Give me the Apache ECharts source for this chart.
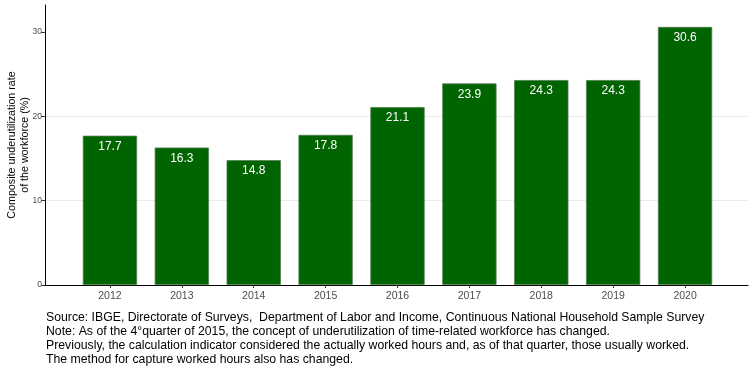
<!DOCTYPE html>
<html>
<head>
<meta charset="UTF-8">
<title>Composite underutilization rate</title>
<script src="https://cdn.jsdelivr.net/npm/echarts@6/dist/echarts.min.js"></script>
<style>
  html, body { margin: 0; padding: 0; background: #fff; }
</style>
</head>
<body>
<div id="main" style="width: 755px;height:378px;"></div>
<script>
  // data
  const years = ['2012', '2013', '2014', '2015', '2016', '2017', '2018', '2019', '2020']
  const rates = [17.7, 16.3, 14.8, 17.8, 21.1, 23.9, 24.3, 24.3, 30.6]
  const yTicks = [0, 10, 20, 30]
  const yTitle = 'Composite underutilization rate\nof the workforce (%)'
  const captionLines = [
    'Source: IBGE, Directorate of Surveys,  Department of Labor and Income, Continuous National Household Sample Survey',
    'Note: As of the 4°quarter of 2015, the concept of underutilization of time-related workforce has changed.',
    'Previously, the calculation indicator considered the actually worked hours and, as of that quarter, those usually worked.',
    'The method for capture worked hours also has changed.'
  ]

  const font = '"Liberation Sans", Arial, sans-serif'
  const yMax = 33.2

  const myChart = echarts.init(document.getElementById('main'))

  const option = {
    animation: false,
    textStyle: { fontFamily: font },
    grid: [
      // panel with axis lines
      { left: 45, right: 7, top: 5, bottom: 93, outerBoundsMode: 'none', containLabel: false },
      // inner band for the bars (ggplot discrete expansion)
      { left: 74, right: 34, top: 5, bottom: 93, outerBoundsMode: 'none', containLabel: false }
    ],
    xAxis: [
      {
        type: 'value', gridIndex: 0, min: 0, max: 1,
        axisLine: { show: true, lineStyle: { color: '#000', width: 1 } },
        axisTick: { show: false },
        axisLabel: { show: false },
        splitLine: { show: false }
      },
      {
        type: 'category', gridIndex: 1, data: years,
        axisLine: { show: false },
        axisTick: { show: true, alignWithLabel: true, length: 3, lineStyle: { color: '#333' } },
        axisLabel: { color: '#4d4d4d', fontSize: 10.5, margin: 6, fontFamily: font },
        splitLine: { show: false }
      }
    ],
    yAxis: [
      {
        type: 'value', gridIndex: 0, min: 0, max: yMax, interval: 10,
        name: yTitle,
        nameLocation: 'middle',
        nameRotate: 90,
        nameGap: 13,
        nameMoveOverlap: false,
        nameTextStyle: { color: '#000', fontSize: 10.7, lineHeight: 13, fontFamily: font },
        axisLine: { show: true, lineStyle: { color: '#000', width: 1 } },
        axisTick: { show: true, length: 4, customValues: yTicks, lineStyle: { color: '#333' } },
        axisLabel: { color: '#4d4d4d', fontSize: 8.5, margin: 3, customValues: yTicks, fontFamily: font },
        splitLine: { show: true, showMaxLine: false, lineStyle: { color: '#ebebeb', width: 1 } }
      },
      {
        type: 'value', gridIndex: 1, min: 0, max: yMax,
        show: false,
        splitLine: { show: false }
      }
    ],
    series: [
      {
        type: 'bar',
        xAxisIndex: 1,
        yAxisIndex: 1,
        data: rates,
        barWidth: '75.5%',
        itemStyle: { color: '#006400', borderColor: '#4f7f4f', borderWidth: 0.8 },
        label: {
          show: true,
          position: 'insideTop',
          distance: 5,
          color: '#fff',
          fontSize: 12,
          fontFamily: font
        }
      }
    ],
    graphic: [
      {
        type: 'text',
        left: 46,
        top: 311,
        style: {
          text: captionLines.join('\n'),
          fill: '#000',
          font: '12.25px ' + font,
          lineHeight: 14
        }
      }
    ]
  }

  myChart.setOption(option)
</script>
</body>
</html>
